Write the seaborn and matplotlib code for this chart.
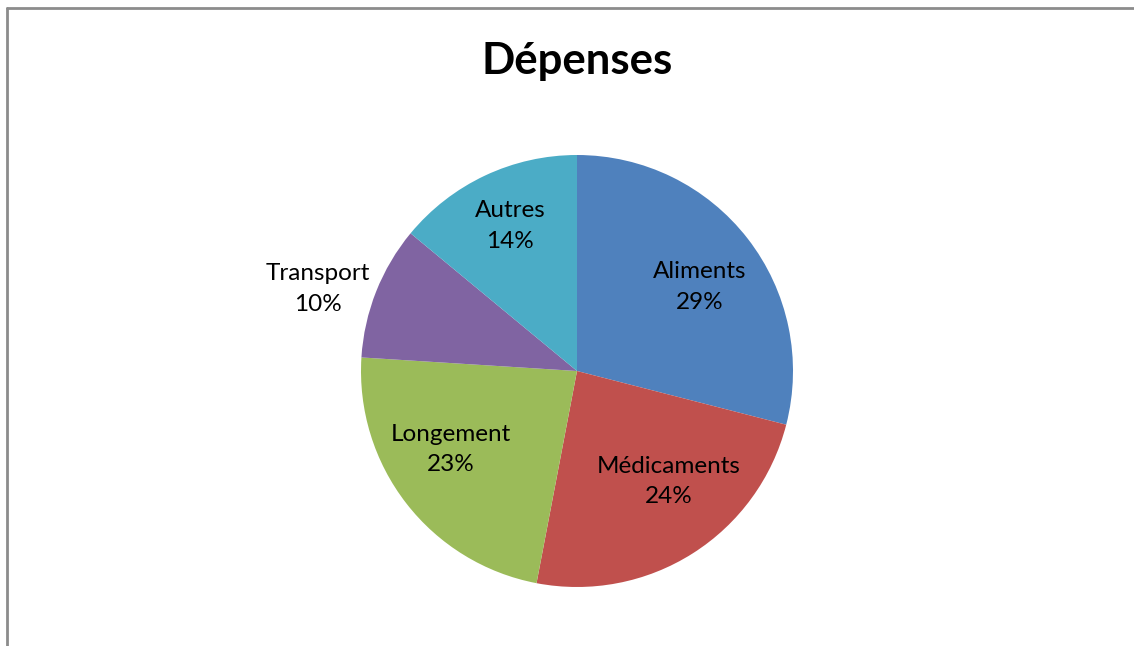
import numpy as np
import matplotlib
matplotlib.use('Agg')
import matplotlib.pyplot as plt
import seaborn as sns

# donnees du graphique
categories = ['Aliments', 'Médicaments', 'Longement', 'Transport', 'Autres']
pourcentages = [29, 24, 23, 10, 14]
couleurs = ['#4F81BD', '#C0504D', '#9BBB59', '#8064A2', '#4BACC6']
titre = 'Dépenses'

sns.set_theme(style='white')
plt.rcParams['font.family'] = ['Lato', 'DejaVu Sans']

W, H = 1134, 646
fig = plt.figure(figsize=(W / 100, H / 100), dpi=100)
fig.patch.set_facecolor('white')

# cadre gris (haut et gauche visibles)
fig.add_artist(plt.Line2D([6.5 / W, 6.5 / W], [0, 1 - 8 / H], transform=fig.transFigure, color='#8c8c8c', lw=2))
fig.add_artist(plt.Line2D([6.5 / W, 1], [1 - 8 / H, 1 - 8 / H], transform=fig.transFigure, color='#8c8c8c', lw=2))

# axe carre centre sur le camembert
cx, cy, r = 577, 371, 216
ax = fig.add_axes([(cx - r) / W, (H - cy - r) / H, 2 * r / W, 2 * r / H])

wedges, _ = ax.pie(pourcentages, colors=sns.color_palette(couleurs), startangle=90, counterclock=False,
                   radius=1, wedgeprops=dict(linewidth=0))
ax.set_xlim(-1, 1)
ax.set_ylim(-1, 1)
ax.set_aspect('equal')
ax.axis('off')

# etiquettes (distance radiale + petit decalage d'angle, comme Excel)
distances = [0.69, 0.665, 0.69, 1.26, 0.74]
decalages = [-3.5, 7.5, -5.9, 4.1, -0.4]
for w, cat, p, d, da in zip(wedges, categories, pourcentages, distances, decalages):
    ang = np.deg2rad((w.theta1 + w.theta2) / 2 + da)
    ax.text(d * np.cos(ang), d * np.sin(ang), f'{cat}\n{p}%', ha='center', va='center',
            fontsize=17.5, color='black', linespacing=1.55, clip_on=False)

fig.text(577 / W, 1 - 61 / H, titre, ha='center', va='center', fontsize=31.5, fontweight='bold', color='black')

fig.savefig('out.png', dpi=100)
